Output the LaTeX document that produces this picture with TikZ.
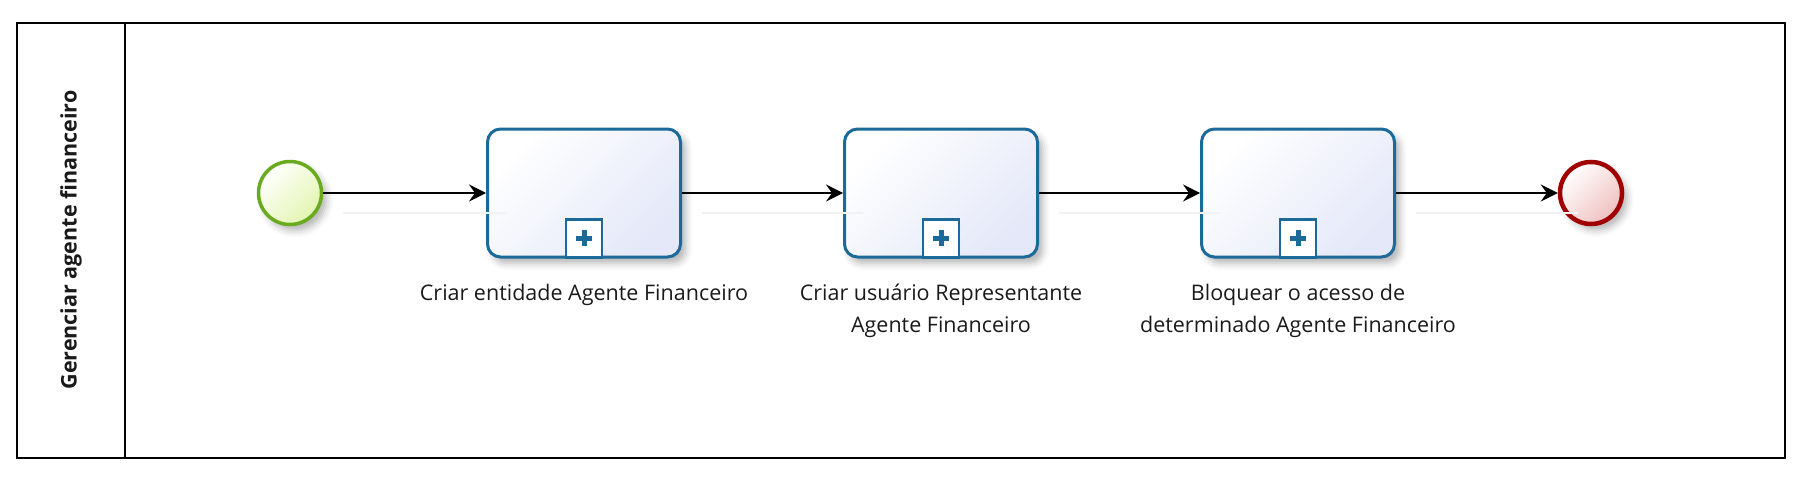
\documentclass[tikz,border=0pt]{standalone}
\usepackage{fontspec}
\setmainfont{Open Sans}
\usetikzlibrary{arrows.meta,shadows.blur}
\definecolor{taskblue}{HTML}{1B6A9A}
\definecolor{taskfill}{HTML}{E4E8F8}
\definecolor{startgreen}{HTML}{6AAA1E}
\definecolor{startfill}{HTML}{E2F5B0}
\definecolor{endred}{HTML}{A00000}
\definecolor{endfill}{HTML}{F0C0C0}
\definecolor{txt}{HTML}{1A1A1A}
\begin{document}
\begin{tikzpicture}[x=1pt,y=-1pt,
  pool/.style={draw=black, line width=1.6pt},
  evshadow/.style={blur shadow={shadow xshift=5pt, shadow yshift=-6pt, shadow blur radius=7pt, shadow opacity=30}},
  startev/.style={circle, draw=startgreen, line width=3.5pt, minimum size=63pt, inner sep=0pt,
     top color=white, bottom color=startfill, shading angle=45, evshadow},
  endev/.style={circle, draw=endred, line width=4.5pt, minimum size=62pt, inner sep=0pt,
     top color=white, bottom color=endfill, shading angle=45, evshadow},
  taskbox/.style={rectangle, rounded corners=13pt, draw=taskblue, line width=3pt,
     minimum width=193pt, minimum height=128pt, inner sep=0pt,
     top color=white, bottom color=taskfill, shading angle=45, evshadow},
  marker/.style={rectangle, draw=taskblue, line width=2.6pt, fill=white,
     minimum width=36pt, minimum height=38pt, inner sep=0pt, anchor=south},
  plussign/.style={draw=taskblue, line width=5pt},
  flow/.style={draw=black, line width=1.6pt, -{Stealth[length=17pt, width=17pt, inset=6pt]}},
  flowshadow/.style={draw=black!5, line width=2pt, transform canvas={shift={(20pt,-20pt)}}},
  lbl/.style={anchor=north, inner sep=0pt, align=center, text=txt, font=\fontsize{21.5}{32}\selectfont},
  lanelbl/.style={rotate=90, inner sep=0pt, text=txt, font=\fontsize{21.5}{24}\selectfont\bfseries}
]
\useasboundingbox (0,0) rectangle (1805,479);
% pool and lane
\draw[pool] (17,23) rectangle (1785,458);
\draw[pool] (125,23) -- (125,458);
\node[lanelbl] (lane) at (71,240) {Gerenciar agente financeiro};

% events and tasks
\node[startev] (s) at (290,193) {};
\node[taskbox] (t1) at (584,193) {};
\node[taskbox] (t2) at (941,193) {};
\node[taskbox] (t3) at (1298,193) {};
\node[endev] (e) at (1591,193) {};

% sub-process markers
\foreach \t in {t1,t2,t3}{
  \node[marker] (\t m) at (\t.south) {};
  \draw[plussign] ([yshift=-8pt]\t m.center) -- ([yshift=8pt]\t m.center);
  \draw[plussign] ([xshift=-8pt]\t m.center) -- ([xshift=8pt]\t m.center);
}

% labels
\node[lbl] (l1) at (584,284) {Criar entidade Agente Financeiro};
\node[lbl] (l2) at (941,284) {Criar usuário Representante\\Agente Financeiro};
\node[lbl] (l3) at (1298,284) {Bloquear o acesso de\\determinado Agente Financeiro};

% connector shadows
\draw[flowshadow] (s) -- (t1);
\draw[flowshadow] (t1) -- (t2);
\draw[flowshadow] (t2) -- (t3);
\draw[flowshadow] (t3) -- (e);
% connectors
\draw[flow] (s) -- (t1);
\draw[flow] (t1) -- (t2);
\draw[flow] (t2) -- (t3);
\draw[flow] (t3) -- (e);
\end{tikzpicture}
\end{document}
